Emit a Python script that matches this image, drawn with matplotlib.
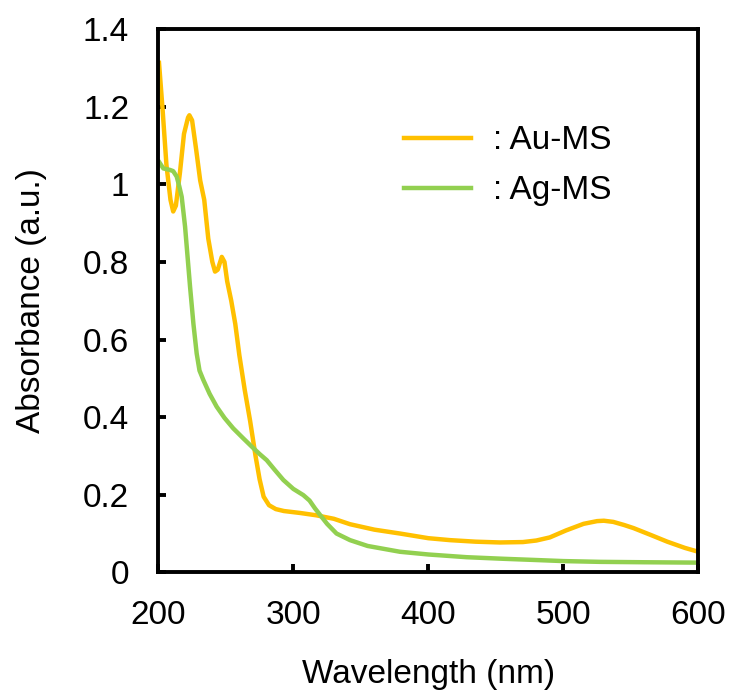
import numpy as np
import matplotlib.pyplot as plt

plt.rcParams['font.family'] = ['Liberation Sans', 'DejaVu Sans']

# Au-MS spectrum
au_wl = [200.5, 203, 206, 209, 211, 213, 216, 219, 222, 223, 225, 228, 231, 234,
         237, 240, 242, 244, 247, 249, 251, 254, 257, 260, 264, 268, 272, 275,
         278, 282, 287, 293, 305, 317, 330, 342, 360, 379, 400, 416, 435, 453,
         470, 480, 490, 502, 515, 525, 530, 537, 545, 552, 565, 577, 590, 600]
au_abs = [1.313, 1.20, 1.05, 0.96, 0.93, 0.945, 1.03, 1.13, 1.172, 1.178, 1.165, 1.09, 1.01, 0.96,
          0.86, 0.80, 0.775, 0.78, 0.813, 0.80, 0.75, 0.70, 0.64, 0.56, 0.47, 0.39, 0.30, 0.24,
          0.195, 0.173, 0.163, 0.158, 0.153, 0.147, 0.138, 0.124, 0.11, 0.10, 0.088, 0.083, 0.079, 0.077,
          0.078, 0.082, 0.09, 0.108, 0.125, 0.132, 0.133, 0.130, 0.122, 0.114, 0.096, 0.079, 0.063, 0.053]

# Ag-MS spectrum
ag_wl = [200.5, 203.7, 208.7, 211, 213.6, 215.5, 217.3, 219.8, 223.5, 226, 228.4, 230.5, 233.3,
         238, 243.2, 249, 255.5, 263, 270.4, 275, 280.3, 286, 292.6, 300, 307.4, 312,
         316, 319.8, 325, 332, 342, 355, 379, 400, 428.4, 455, 477.8, 500, 527, 560, 600]
ag_abs = [1.058, 1.041, 1.037, 1.034, 1.02, 0.995, 0.968, 0.891, 0.736, 0.64, 0.564, 0.52, 0.496,
          0.46, 0.427, 0.398, 0.371, 0.345, 0.32, 0.305, 0.289, 0.265, 0.238, 0.215, 0.199, 0.185,
          0.165, 0.148, 0.125, 0.10, 0.083, 0.068, 0.053, 0.046, 0.039, 0.035, 0.032, 0.029, 0.027, 0.026, 0.025]

fig = plt.figure(figsize=(7.31, 6.95), dpi=100)
ax = fig.add_axes([0.2166, 0.1765, 0.7387, 0.7816])

ax.plot(au_wl, au_abs, color='#FFC000', lw=3.2, label=': Au-MS')
ax.plot(ag_wl, ag_abs, color='#92D050', lw=3.2, label=': Ag-MS')

ax.set_xlim(200, 600)
ax.set_ylim(0, 1.4)
ax.set_xticks(np.arange(200, 601, 100))
ax.set_yticks(np.arange(0, 1.41, 0.2))
ax.set_yticklabels(['0', '0.2', '0.4', '0.6', '0.8', '1', '1.2', '1.4'])
ax.tick_params(direction='in', length=6, width=2.8, labelsize=24)
ax.tick_params(axis='y', pad=21)
ax.tick_params(axis='x', pad=20)
for s in ax.spines.values():
    s.set_linewidth(2.8)

ax.set_xlabel('Wavelength (nm)', fontsize=24, labelpad=20)
ax.set_ylabel('Absorbance (a.u.)', fontsize=24, labelpad=26)

ax.legend(loc='upper left', bbox_to_anchor=(0.455, 0.823), frameon=False,
          borderpad=0, borderaxespad=0, fontsize=24, handlelength=2.0,
          handletextpad=0.66, labelspacing=0.57)

plt.savefig('out.png', dpi=100)
